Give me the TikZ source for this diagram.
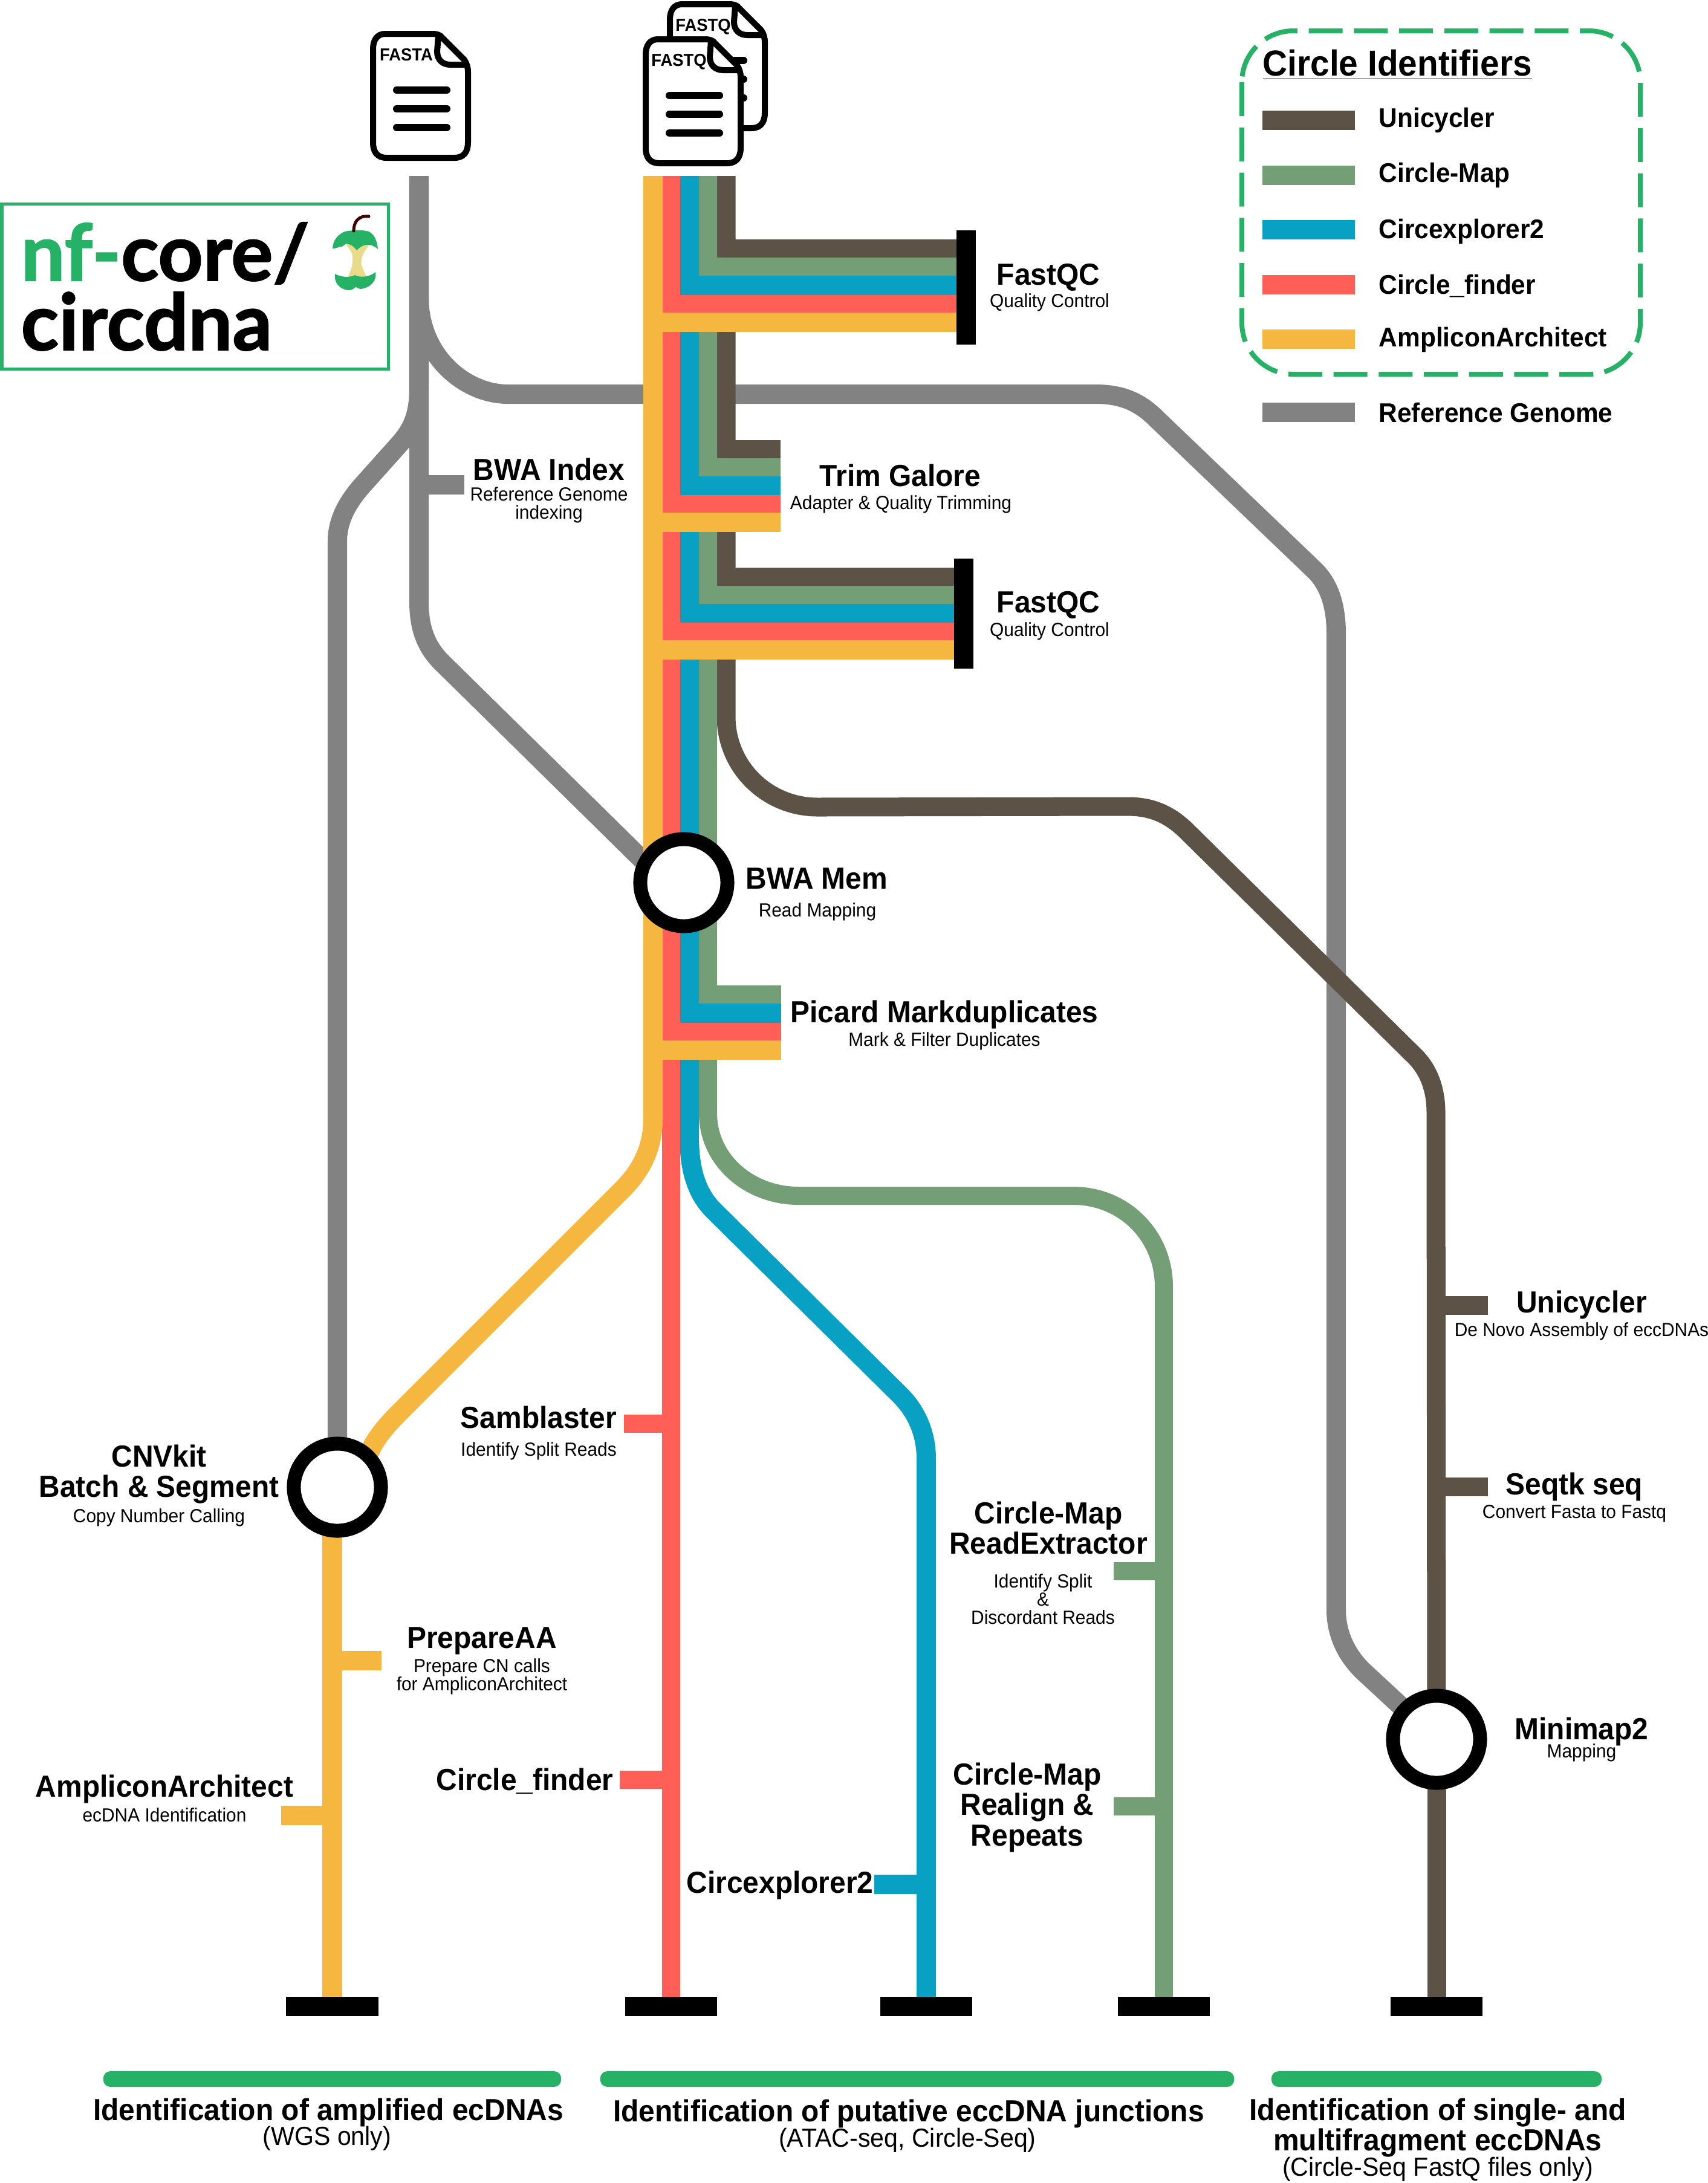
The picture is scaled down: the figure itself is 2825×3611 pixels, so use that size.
\documentclass[tikz,border=0pt]{standalone}
\usepackage{fontspec}
\setmainfont{Liberation Sans}[FakeStretch=0.95]
\newfontfamily\logofont{Lato}[BoldFeatures={FakeBold=1.5}]
\usetikzlibrary{backgrounds}

\definecolor{refgray}{HTML}{828282}
\definecolor{unibrown}{HTML}{5C5346}
\definecolor{mapgreen}{HTML}{749E75}
\definecolor{expblue}{HTML}{08A1C4}
\definecolor{finderred}{HTML}{FF5F56}
\definecolor{aayellow}{HTML}{F6B741}
\definecolor{coregreen}{HTML}{25B166}
\definecolor{corepale}{HTML}{E8DC8A}

\tikzset{
	linegray/.style={draw=refgray,line width=0.32cm},
	linebrown/.style={draw=unibrown,line width=0.31cm},
	linegreen/.style={draw=mapgreen,line width=0.30cm},
	lineblue/.style={draw=expblue,line width=0.32cm},
	linered/.style={draw=finderred,line width=0.30cm},
	lineyellow/.style={draw=aayellow,line width=0.32cm},
	station/.style={circle,draw=black,fill=white,line width=0.23cm,minimum size=1.44cm,inner sep=0pt,outer sep=0pt},
	stopbar/.style={rectangle,fill=black,minimum width=1.52cm,minimum height=0.32cm,inner sep=0pt,outer sep=0pt},
	qcbar/.style={rectangle,fill=black,minimum width=0.32cm,minimum height=1.86cm,inner sep=0pt,outer sep=0pt},
	swatch/.style={rectangle,minimum width=1.53cm,minimum height=0.32cm,inner sep=0pt},
	groupbar/.style={rectangle,fill=coregreen,rounded corners=0.12cm,minimum height=0.26cm,inner sep=0pt},
	stationname/.style={anchor=base,inner sep=0pt,font=\fontsize{14.35}{16}\selectfont\bfseries},
	stationnote/.style={anchor=base,inner sep=0pt,font=\fontsize{8.95}{10}\selectfont},
	groupnote/.style={anchor=base,inner sep=0pt,font=\fontsize{12.3}{14}\selectfont},
	legendname/.style={anchor=base west,inner sep=0pt,font=\fontsize{12.7}{14}\selectfont\bfseries},
	logotext/.style={anchor=base west,inner sep=0pt,text depth=0pt,font=\fontsize{36.8}{40}\selectfont\logofont\bfseries},
	docicon/.pic={
		\draw[line width=0.10cm,fill=white,line join=round] (25,5) -- (102,5) .. controls (110,5) and (116,6) .. (120,12) -- (156,48) .. controls (160,54) and (162,60) .. (162,68) -- (162,185) .. controls (162,200) and (155,210) .. (140,210) -- (27,210) .. controls (12,210) and (5,200) .. (5,185) -- (5,30) .. controls (5,15) and (12,5) .. (25,5) -- cycle;
		\draw[line width=0.10cm] (113,8) -- (111,34) .. controls (111,48) and (120,56) .. (133,56) -- (160,56);
		\foreach \rowy in {98,129,160}
			\draw[line width=0.12cm,line cap=round] (44,\rowy) -- (127,\rowy);
		\node[anchor=base,inner sep=0pt,font=\fontsize{8.2}{10}\selectfont\bfseries] (-tag) at (60,49) {#1};
	},
}

\begin{document}
\begin{tikzpicture}[x=0.01cm,y=-0.01cm]
	\useasboundingbox (0,0) rectangle (2825,3611);

	% stations and stops
	\node[station] (cnvkit) at (558,2460) {};
	\node[station] (bwamem) at (1131,1460) {};
	\node[station] (minimap) at (2376,2877) {};
	\node[stopbar] (stopyellow) at (549.5,3319) {};
	\node[stopbar] (stopred) at (1110,3319) {};
	\node[stopbar] (stopblue) at (1532,3319) {};
	\node[stopbar] (stopgreen) at (1925,3319) {};
	\node[stopbar] (stopbrown) at (2376,3319) {};
	\node[qcbar,minimum height=1.89cm] (fastqcone) at (1598,475.5) {};
	\node[qcbar,minimum height=1.82cm] (fastqctwo) at (1594,1015) {};

	\coordinate (topgray) at (693,291);
	\coordinate (topbrown) at (1201,291);
	\coordinate (topgreen) at (1171,291);
	\coordinate (topblue) at (1140,291);
	\coordinate (topred) at (1110,291);
	\coordinate (topyellow) at (1080,291);
	\coordinate (trimend) at (1291,800);
	\coordinate (picardend) at (1292,1700);

	\begin{scope}[on background layer]
		% reference genome
		\draw[linegray] (topgray) -- (693,641) .. controls (693,690) and (680,712) .. (661,734) -- (601,801) .. controls (575,830) and (558,860) .. (558,896) -- (cnvkit);
		\draw[linegray] (topgray) -- (693,995) .. controls (693,1040) and (705,1072) .. (735,1100) -- (1059,1419) -- (bwamem);
		\draw[linegray] (693,491) .. controls (693,590) and (770,652) .. (840,652) -- (1813,652) .. controls (1855,652) and (1885,665) .. (1912,692) -- (2175,944) .. controls (2200,969) and (2210,1005) .. (2210,1048) -- (2210,2663) .. controls (2210,2700) and (2225,2735) .. (2253,2763) -- (minimap);
		\draw[linegray] (693,802) -- (768,802);

		% unicycler
		\draw[linebrown] (topbrown) -- (1201,1185) .. controls (1201,1270) and (1270,1335) .. (1352,1335) -- (1865,1334) .. controls (1905,1334) and (1935,1347) .. (1964,1376) -- (2342,1749) .. controls (2362,1770) and (2375,1800) .. (2375,1840) -- (minimap);
		\draw[linebrown] (minimap) -- (stopbrown);
		\draw[linebrown] (1201,411) -- (fastqcone.west |- 0,411);
		\draw[linebrown] (1201,743.5) -- (trimend |- 0,743.5);
		\draw[linebrown] (1201,954.5) -- (fastqctwo.west |- 0,954.5);
		\draw[linebrown] (2375,2159) -- (2461,2159);
		\draw[linebrown] (2375,2459) -- (2461,2459);

		% circle-map
		\draw[linegreen] (topgreen) -- (1171,1841) .. controls (1171,1920) and (1240,1978) .. (1321,1978) -- (1775,1978) .. controls (1860,1978) and (1925,2045) .. (1925,2128) -- (stopgreen);
		\draw[linegreen] (1171,441) -- (fastqcone.west |- 0,441);
		\draw[linegreen] (1171,773) -- (trimend |- 0,773);
		\draw[linegreen] (1171,984) -- (fastqctwo.west |- 0,984);
		\draw[linegreen] (1171,1645) -- (picardend |- 0,1645);
		\draw[linegreen] (1925,2599) -- (1842,2599);
		\draw[linegreen] (1925,2988) -- (1842,2988);

		% circexplorer2
		\draw[lineblue] (topblue) -- (1140,1880) .. controls (1140,1930) and (1150,1972) .. (1180,2002) -- (1489,2308) .. controls (1515,2334) and (1532,2370) .. (1532,2413) -- (stopblue);
		\draw[lineblue] (1140,472) -- (fastqcone.west |- 0,472);
		\draw[lineblue] (1140,804) -- (trimend |- 0,804);
		\draw[lineblue] (1140,1015) -- (fastqctwo.west |- 0,1015);
		\draw[lineblue] (1140,1676) -- (picardend |- 0,1676);
		\draw[lineblue] (1532,3117) -- (1446,3117);

		% circle_finder
		\draw[linered] (topred) -- (stopred);
		\draw[linered] (1110,502.5) -- (fastqcone.west |- 0,502.5);
		\draw[linered] (1110,834) -- (trimend |- 0,834);
		\draw[linered] (1110,1045) -- (fastqctwo.west |- 0,1045);
		\draw[linered] (1110,1706.5) -- (picardend |- 0,1706.5);
		\draw[linered] (1110,2355) -- (1032,2355);
		\draw[linered] (1110,2944) -- (1025,2944);

		% ampliconarchitect
		\draw[lineyellow] (topyellow) -- (1080,1850) .. controls (1080,1900) and (1060,1938) .. (1026,1971) -- (660,2337) .. controls (640,2357) and (622,2378) .. (612,2400) -- (cnvkit);
		\draw[lineyellow] (cnvkit.center -| stopyellow) -- (stopyellow);
		\draw[lineyellow] (1080,532.5) -- (fastqcone.west |- 0,532.5);
		\draw[lineyellow] (1080,864) -- (trimend |- 0,864);
		\draw[lineyellow] (1080,1075) -- (fastqctwo.west |- 0,1075);
		\draw[lineyellow] (1080,1737) -- (picardend |- 0,1737);
		\draw[lineyellow] (549.5,2746.5) -- (631,2746.5);
		\draw[lineyellow] (549.5,3003) -- (465,3003);
	\end{scope}

	% input files
	\pic (fasta) at (612,51) {docicon=FASTA};
	\pic (fastqback) at (1103,2) {docicon=FASTQ};
	\pic (fastqfront) at (1063,60) {docicon=FASTQ};

	% logo
	\draw[coregreen,line width=0.05cm] (3,337) rectangle (642,610);
	\node[logotext] (logotop) at (34,464) {\textcolor{coregreen}{nf-}core/};
	\node[logotext] (logobottom) at (34,579) {circdna};
	\draw[corepale,fill=corepale] plot[smooth cycle] coordinates {(573,403) (583,407) (590,414) (598,408) (610,404) (600,420) (597,437) (605,458) (597,458) (587,455) (577,458) (583,440) (583,420)};
	\fill[coregreen] (550,411) .. controls (551,400) and (555,390) .. (570,383) .. controls (585,380) and (600,380) .. (610,383) .. controls (620,388) and (624,400) .. (625,412) .. controls (620,407) and (612,404) .. (607,405) .. controls (600,405) and (594,410) .. (590,414) .. controls (586,408) and (580,404) .. (573,403) .. controls (568,405) and (566,410) .. (562,408) .. controls (558,410) and (554,411) .. (550,411) -- cycle;
	\fill[coregreen] (554,453) .. controls (562,458) and (578,460) .. (587,455) .. controls (596,460) and (612,458) .. (621,450) .. controls (624,465) and (612,476) .. (597,478) .. controls (593,478) and (590,475) .. (588,475) .. controls (585,478) and (580,481) .. (575,480) .. controls (562,478) and (552,468) .. (554,453) -- cycle;
	\draw[line width=0.05cm,draw=black!75!red,line cap=round] (585,382) .. controls (585,368) and (592,356) .. (610,358);

	% legend
	\draw[coregreen,line width=0.08cm,rounded corners=0.85cm,dash pattern=on 0.56cm off 0.187cm] (2054,51) rectangle (2713,619);
	\node[legendname,font=\fontsize{17}{20}\selectfont\bfseries] (legendtitle) at (2088,125) {\underline{Circle Identifiers}};
	\foreach \swname/\swcol/\swy/\swbase/\swtext in {swuni/unibrown/199/210/Unicycler,swmap/mapgreen/290/301/Circle-Map,swexp/expblue/380/394/Circexplorer2,swfinder/finderred/471/486/Circle\_finder,swaa/aayellow/561/573/AmpliconArchitect,swref/refgray/682/698/Reference Genome}{
		\node[swatch,fill=\swcol] (\swname) at (2164.5,\swy) {};
		\node[legendname] (\swname text) at (2280,\swbase) {\swtext};
	}

	% labels
	\node[stationname] (qconename) at (1734,471) {FastQC};
	\node[stationnote] (qconenote) at (1736,508) {Quality Control};
	\node[stationname] (trimname) at (1489,804) {Trim Galore};
	\node[stationnote] (trimnote) at (1490,842) {Adapter \& Quality Trimming};
	\node[stationname] (qctwoname) at (1734,1013) {FastQC};
	\node[stationnote] (qctwonote) at (1736,1052) {Quality Control};
	\node[stationname] (bwamemname) at (1351,1470) {BWA Mem};
	\node[stationnote] (bwamemnote) at (1352,1516) {Read Mapping};
	\node[stationname] (picardname) at (1562,1691) {Picard Markduplicates};
	\node[stationnote] (picardnote) at (1562,1730) {Mark \& Filter Duplicates};
	\node[stationname] (bwaindexname) at (908,794) {BWA Index};
	\node[stationnote] (bwaindexnote) at (908,828) {Reference Genome};
	\node[stationnote] (bwaindexnotetwo) at (908,858) {indexing};

	\node[stationname] (cnvkitname) at (263,2426) {CNVkit};
	\node[stationname] (cnvkitnametwo) at (263,2476) {Batch \& Segment};
	\node[stationnote] (cnvkitnote) at (263,2518) {Copy Number Calling};
	\node[stationname] (prepname) at (797,2726) {PrepareAA};
	\node[stationnote] (prepnote) at (797,2766) {Prepare CN calls};
	\node[stationnote] (prepnotetwo) at (797,2796) {for AmpliconArchitect};
	\node[stationname] (aaname) at (272,2972) {AmpliconArchitect};
	\node[stationnote] (aanote) at (272,3013) {ecDNA Identification};

	\node[stationname] (sambname) at (891,2362) {Samblaster};
	\node[stationnote] (sambnote) at (891,2408) {Identify Split Reads};
	\node[stationname] (findername) at (868,2961) {Circle\_finder};
	\node[stationname] (expname) at (1290,3131) {Circexplorer2};

	\node[stationname] (readextname) at (1734,2520) {Circle-Map};
	\node[stationname] (readextnametwo) at (1734,2570) {ReadExtractor};
	\node[stationnote] (readextnote) at (1725,2626) {Identify Split};
	\node[stationnote] (readextnotetwo) at (1725,2656) {\&};
	\node[stationnote] (readextnotethree) at (1725,2686) {Discordant Reads};
	\node[stationname] (realignname) at (1699,2952) {Circle-Map};
	\node[stationname] (realignnametwo) at (1699,3002) {Realign \&};
	\node[stationname] (realignnamethree) at (1699,3053) {Repeats};

	\node[stationname] (uniname) at (2616,2171) {Unicycler};
	\node[stationnote] (uninote) at (2616,2210) {De Novo Assembly of eccDNAs};
	\node[stationname] (seqtkname) at (2604,2472) {Seqtk seq};
	\node[stationnote] (seqtknote) at (2604,2511) {Convert Fasta to Fastq};
	\node[stationname] (mininame) at (2616,2877) {Minimap2};
	\node[stationnote] (mininote) at (2616,2907) {Mapping};

	% groups along the bottom
	\node[groupbar,minimum width=7.57cm] (amplifiedbar) at (549.5,3439) {};
	\node[groupbar,minimum width=10.48cm] (putativebar) at (1517,3439) {};
	\node[groupbar,minimum width=5.46cm] (singlebar) at (2376,3439) {};
	\node[stationname] (amplifiedname) at (543,3507) {Identification of amplified ecDNAs};
	\node[groupnote] (amplifiednote) at (541,3548) {(WGS only)};
	\node[stationname] (putativename) at (1503,3509) {Identification of putative eccDNA junctions};
	\node[groupnote] (putativenote) at (1501,3551) {(ATAC-seq, Circle-Seq)};
	\node[stationname] (singlename) at (2378,3507) {Identification of single- and};
	\node[stationname] (singlenametwo) at (2378,3557) {multifragment eccDNAs};
	\node[groupnote] (singlenote) at (2378,3599) {(Circle-Seq FastQ files only)};
\end{tikzpicture}
\end{document}
